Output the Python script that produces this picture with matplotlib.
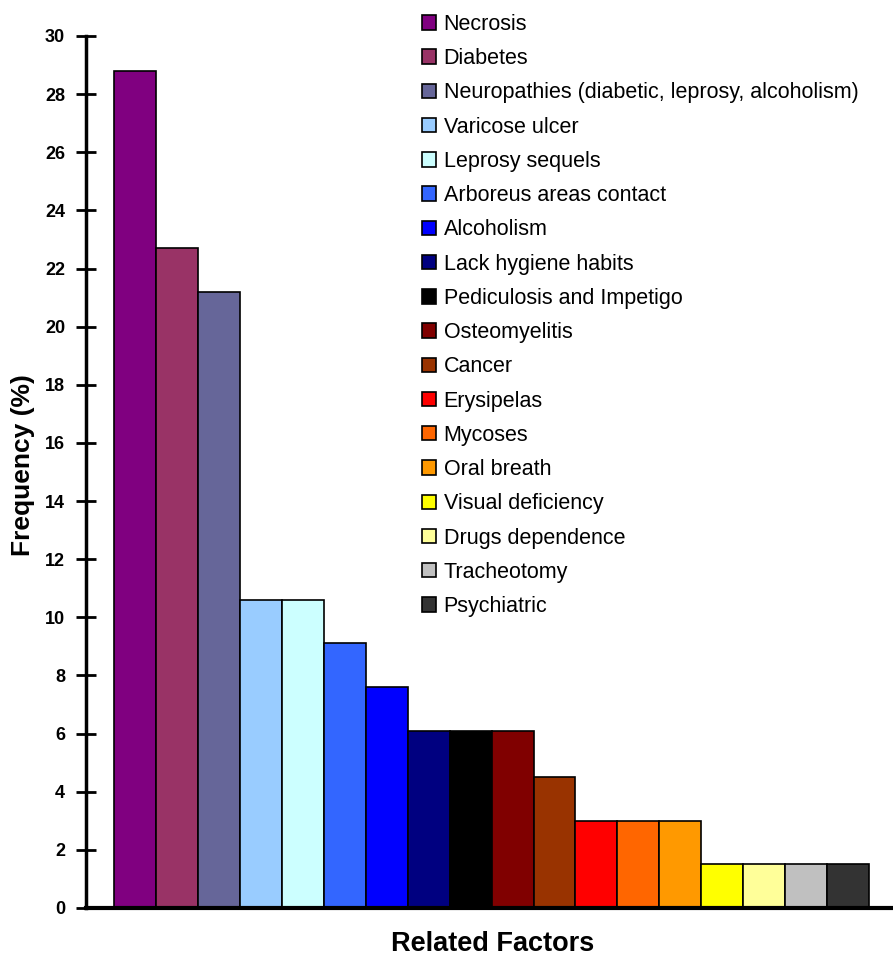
import matplotlib
matplotlib.use("Agg")
import matplotlib.pyplot as plt
from matplotlib.patches import Patch

categories = ["Necrosis", "Diabetes", "Neuropathies (diabetic, leprosy, alcoholism)",
              "Varicose ulcer", "Leprosy sequels", "Arboreus areas contact", "Alcoholism",
              "Lack hygiene habits", "Pediculosis and Impetigo", "Osteomyelitis", "Cancer",
              "Erysipelas", "Mycoses", "Oral breath", "Visual deficiency",
              "Drugs dependence", "Tracheotomy", "Psychiatric"]
values = [28.8, 22.7, 21.2, 10.6, 10.6, 9.1, 7.6, 6.1, 6.1, 6.1, 4.5,
          3.0, 3.0, 3.0, 1.5, 1.5, 1.5, 1.5]
colors = ["#800080", "#993366", "#666699", "#99CCFF", "#CCFFFF", "#3366FF", "#0000FF",
          "#000080", "#000000", "#800000", "#993300", "#FF0000", "#FF6600", "#FF9900",
          "#FFFF00", "#FFFF99", "#C0C0C0", "#333333"]
yticks = list(range(0, 31, 2))

plt.rcParams['font.family'] = ['Liberation Sans', 'DejaVu Sans']

fig = plt.figure(figsize=(8.93, 9.58), dpi=100)
ax = fig.add_axes([86/893, 50/958, 1 - 86/893, 872/958])

x = list(range(len(values)))
ax.bar(x, values, width=1.0, color=colors, edgecolor="black", linewidth=1.2)

ax.set_xlim(-1.168, 18.07)
ax.set_ylim(0, 30)
ax.set_yticks(yticks)
ax.set_yticklabels([str(t) for t in yticks], fontsize=13, fontweight="bold")
ax.set_xticks([])
ax.tick_params(axis="y", direction="inout", length=14, width=2, pad=8)
for s in ["top", "right"]:
    ax.spines[s].set_visible(False)
ax.spines["left"].set_linewidth(2.5)
ax.spines["bottom"].set_linewidth(3)

fig.text(23/893, 1 - 465/958, "Frequency (%)", fontsize=19, fontweight="bold",
         rotation=90, ha="center", va="center")
fig.text(493/893, 1 - 944/958, "Related Factors", fontsize=19.5, fontweight="bold",
         ha="center", va="center")

handles = [Patch(facecolor=c, edgecolor="black", linewidth=1.2) for c in colors]
fig.legend(handles, categories, loc="upper left", bbox_to_anchor=(422/893, 1 - 14/958),
           frameon=False, fontsize=15.5, handlelength=0.65, handleheight=0.65,
           handletextpad=0.35, labelspacing=0.615, borderpad=0, borderaxespad=0)

fig.savefig("out.png", dpi=100, facecolor="white")
